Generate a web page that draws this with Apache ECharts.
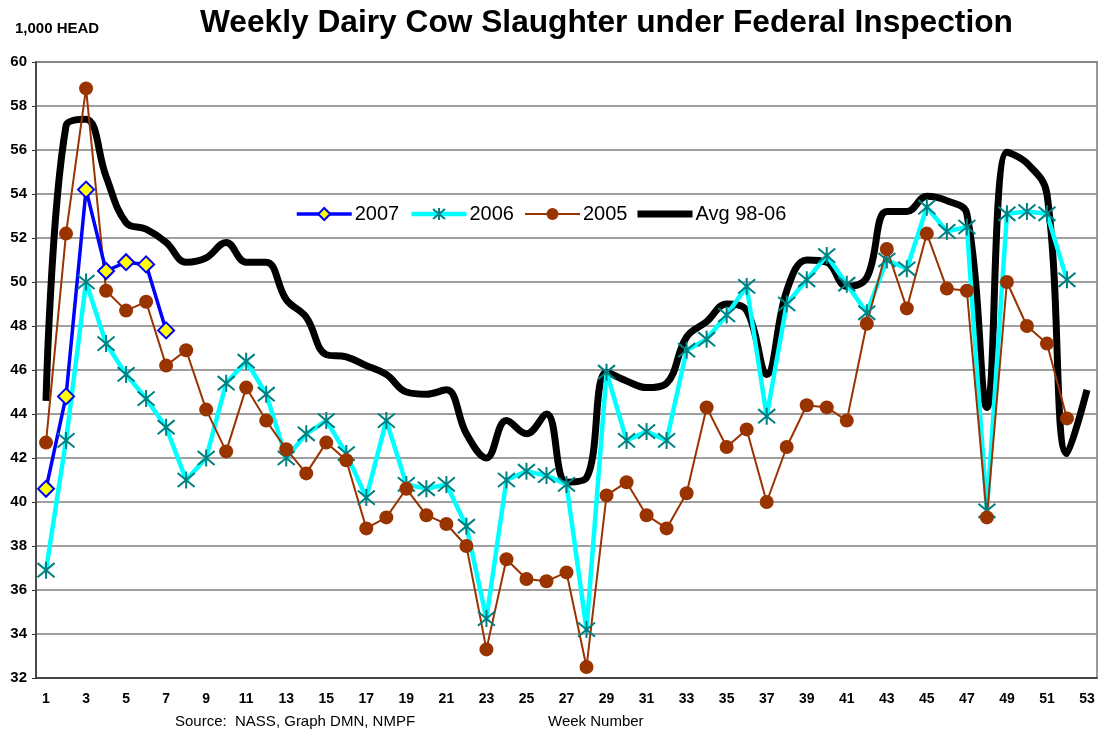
<!DOCTYPE html>
<html>
<head>
<meta charset="utf-8">
<script src="https://cdn.jsdelivr.net/npm/echarts@6/dist/echarts.min.js"></script>
<style>
  html, body { margin: 0; padding: 0; background: #fff; }
  #chart { width: 1102px; height: 734px; }
</style>
</head>
<body>
<div id="chart"></div>
<script>
// week numbers on the x axis
const weeks = [];
for (let w = 1; w <= 53; w++) weeks.push(String(w));

// 1,000 head per week
const y2007 = [40.6, 44.8, 54.2, 50.5, 50.9, 50.8, 47.8];
const y2006 = [36.9, 42.8, 50.0, 47.2, 45.8, 44.7, 43.4, 41.0, 42.0, 45.4,
  46.4, 44.9, 42.0, 43.1, 43.7, 42.2, 40.2, 43.7, 40.8, 40.6,
  40.8, 38.9, 34.7, 41.0, 41.4, 41.2, 40.8, 34.2, 45.9, 42.8,
  43.2, 42.8, 46.9, 47.4, 48.5, 49.8, 43.9, 49.0, 50.1, 51.2,
  49.9, 48.6, 51.0, 50.6, 53.4, 52.3, 52.5, 39.6, 53.1, 53.2,
  53.1, 50.1];
const y2005 = [42.7, 52.2, 58.8, 49.6, 48.7, 49.1, 46.2, 46.9, 44.2, 42.3,
  45.2, 43.7, 42.4, 41.3, 42.7, 41.9, 38.8, 39.3, 40.6, 39.4,
  39.0, 38.0, 33.3, 37.4, 36.5, 36.4, 36.8, 32.5, 40.3, 40.9,
  39.4, 38.8, 40.4, 44.3, 42.5, 43.3, 40.0, 42.5, 44.4, 44.3,
  43.7, 48.1, 51.5, 48.8, 52.2, 49.7, 49.6, 39.3, 50.0, 48.0,
  47.2, 43.8];
const avg9806 = [44.6, 57.1, 57.4, 54.8, 52.7, 52.4, 51.8, 50.9, 51.1, 51.8,
  50.9, 50.9, 49.2, 48.4, 46.7, 46.6, 46.2, 45.8, 45.0, 44.9,
  45.1, 43.1, 42.0, 43.7, 43.1, 44.0, 40.9, 41.1, 45.9, 45.5,
  45.2, 45.4, 47.5, 48.2, 49.0, 48.7, 45.8, 49.6, 51.0, 50.9,
  49.8, 50.2, 53.2, 53.2, 53.9, 53.7, 53.1, 44.3, 55.9, 55.4,
  54.0, 42.2, 45.1];

const FONT = '"Liberation Sans", Arial, sans-serif';
const asterisk = 'path://M0,0L20,20M20,0L0,20M10,-2L10,22';
// thick bar for the average line's legend entry
const avgIcon = 'path://M0,0M55,14M0,3.5L55,3.5L55,10.5L0,10.5Z';

const chart = echarts.init(document.getElementById('chart'));
chart.setOption({
  animation: false,
  backgroundColor: '#fff',
  textStyle: { fontFamily: FONT },
  title: {
    text: 'Weekly Dairy Cow Slaughter under Federal Inspection',
    left: 195,
    top: 2,
    textStyle: { fontSize: 31.7, fontWeight: 'bold', color: '#000', fontFamily: FONT }
  },
  graphic: [
    { type: 'text', left: 15, top: 21,
      style: { text: '1,000 HEAD', font: 'bold 15px ' + FONT, fill: '#000' } },
    { type: 'text', left: 175, top: 714,
      style: { text: 'Source:  NASS, Graph DMN, NMPF', font: '15px ' + FONT, fill: '#000' } },
    { type: 'text', left: 548, top: 714,
      style: { text: 'Week Number', font: '15px ' + FONT, fill: '#000' } }
  ],
  legend: {
    data: [
      { name: '2007', lineStyle: { width: 3.5 } },
      { name: '2006', lineStyle: { width: 4.5 } },
      { name: '2005', lineStyle: { width: 2 } },
      { name: 'Avg 98-06', icon: avgIcon }
    ],
    left: 295,
    top: 204,
    padding: 0,
    itemWidth: 55,
    itemHeight: 15,
    itemGap: 10,
    textStyle: { fontSize: 20, color: '#000', fontFamily: FONT, padding: [0, 0, 0, -2] }
  },
  grid: {
    left: 36, right: 5, top: 62, bottom: 56,
    show: true, borderColor: '#999', borderWidth: 2
  },
  xAxis: {
    type: 'category',
    data: weeks,
    boundaryGap: true,
    axisLine: { lineStyle: { color: '#333', width: 1.5 } },
    axisTick: { interval: 0, length: 5, lineStyle: { color: '#333' } },
    axisLabel: { interval: 1, margin: 14, fontSize: 14, fontWeight: 'bold', color: '#000' }
  },
  yAxis: {
    type: 'value',
    min: 32, max: 60, interval: 2,
    axisLine: { show: true, lineStyle: { color: '#333', width: 1.5 } },
    axisTick: { show: true, length: 4, lineStyle: { color: '#333' } },
    axisLabel: { margin: 9, fontSize: 15, fontWeight: 'bold', color: '#000' },
    splitLine: { lineStyle: { color: '#808080', width: 1.5 } }
  },
  series: [
    {
      name: 'Avg 98-06', type: 'line', data: avg9806,
      smooth: 0.4, showSymbol: false, symbol: 'none',
      lineStyle: { color: '#000', width: 7 },
      itemStyle: { color: '#000' }
    },
    {
      name: '2006', type: 'line', data: y2006,
      symbol: asterisk, symbolSize: 17, showAllSymbol: true,
      lineStyle: { color: '#00FFFF', width: 4.5 },
      itemStyle: { color: '#008080', borderColor: '#008080', borderWidth: 2 }
    },
    {
      name: '2005', type: 'line', data: y2005,
      symbol: 'circle', symbolSize: 14, showAllSymbol: true,
      lineStyle: { color: '#993300', width: 2 },
      itemStyle: { color: '#993300' }
    },
    {
      name: '2007', type: 'line', data: y2007,
      symbol: 'diamond', symbolSize: 16, showAllSymbol: true,
      lineStyle: { color: '#0000FF', width: 3.5 },
      itemStyle: { color: '#FFFF00', borderColor: '#0000FF', borderWidth: 2 }
    }
  ]
});
</script>
</body>
</html>
